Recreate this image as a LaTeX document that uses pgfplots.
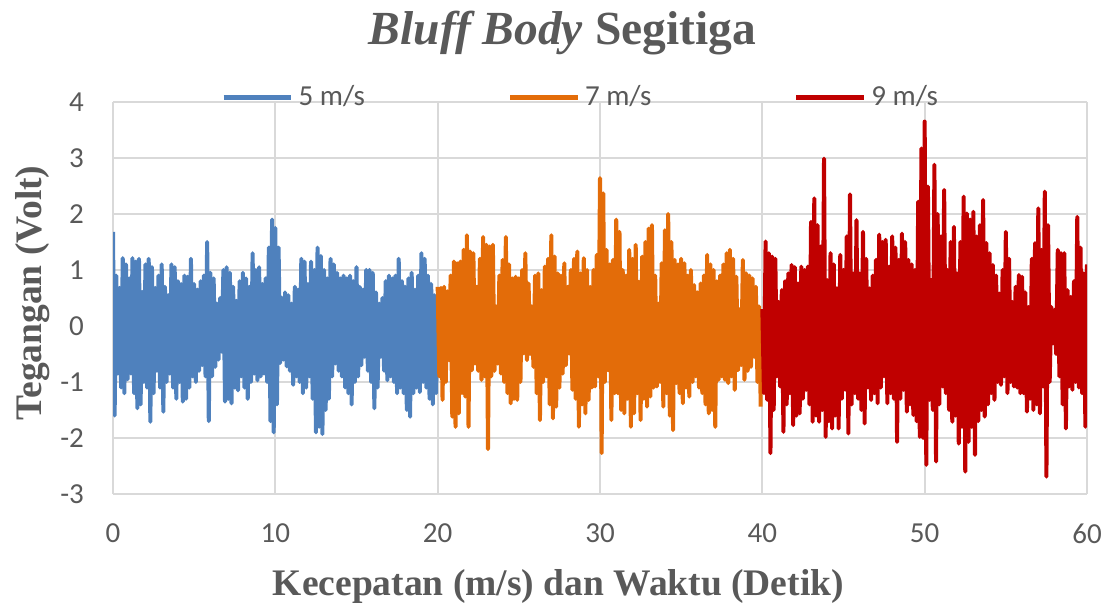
\documentclass[border=0pt]{standalone}
\usepackage{fontspec}
\setmainfont{Liberation Serif}
\newfontfamily\calibri{Carlito}
\usepackage{pgfplots}
\pgfplotsset{compat=1.18}
\definecolor{textgray}{HTML}{595959}
\definecolor{gridgray}{HTML}{D9D9D9}
\definecolor{sblue}{HTML}{4F81BD}
\definecolor{sorange}{HTML}{E36C09}
\definecolor{sred}{HTML}{C00000}
\newcommand\tickfont{\calibri\fontsize{11.6}{13}\selectfont}
\begin{document}
\begin{tikzpicture}
\begin{axis}[
  name=ax, scale only axis, width=389.6pt, height=156.8pt,
  xmin=0, xmax=60, ymin=-3, ymax=4,
  xtick={0,10,20,30,40,50,60}, ytick={-3,-2,-1,0,1,2,3,4},
  xticklabels={0,10,20,30,40,50,60}, yticklabels={-3,-2,-1,0,1,2,3,4},
  grid=major, major grid style={draw=gridgray, line width=0.75pt},
  axis line style={draw=none}, tick style={draw=none},
  ticklabel style={font=\tickfont, text=textgray},
  xticklabel style={yshift=-8.5pt}, yticklabel style={xshift=-8.1pt},
  title={\textit{Bluff Body} Segitiga},
  title style={font=\fontsize{19}{21}\selectfont\bfseries, text=textgray, at={(axis description cs:0.4615,1.177)}, anchor=center, yshift=0pt},
  every axis title shift=0pt,
  xlabel={Kecepatan (m/s) dan Waktu (Detik)},
  xlabel style={font=\fontsize{15}{17}\selectfont\bfseries, text=textgray, at={(axis description cs:0.4573,-0.2347)}, anchor=center},
  ylabel={Tegangan (Volt)},
  ylabel style={font=\fontsize{15}{17}\selectfont\bfseries, text=textgray, at={(axis description cs:-0.0826,0.513)}, anchor=center},
  legend columns=3,
  legend style={draw=none, fill=none, inner sep=0pt, at={(axis description cs:0.1105,1.0115)}, anchor=west, font=\tickfont, text=textgray, /tikz/every even column/.append style={column sep=55pt}},
  legend image code/.code={\draw[#1, line width=2pt] (0pt,0pt) -- (27pt,0pt);},
]
\addplot[sblue, line width=1.6pt, line join=round] coordinates {
(0,1.68)(0.1,-1.6)(0.2,0.9)(0.3,-0.85)(0.4,0.68)(0.5,-1.1)(0.6,1.21)(0.7,-1.2)(0.8,1.1)(0.9,-0.95)(1,0.85)(1.1,-0.85)(1.2,1.21)(1.3,-1.2)(1.4,1.15)(1.5,-1.47)(1.6,1.2)(1.7,-1.4)(1.8,0.61)(1.9,-1.0)
(2,1.1)(2.1,-1.1)(2.2,1.2)(2.3,-1.71)(2.4,1.05)(2.5,-1.2)(2.6,0.68)(2.7,-0.8)(2.8,0.9)(2.9,-1.1)(3,1.1)(3.1,-1.53)(3.2,0.7)(3.3,-1.0)(3.4,0.55)(3.5,-0.85)(3.6,1.1)(3.7,-1.1)(3.8,1.05)(3.9,-1.3)
(4,0.8)(4.1,-1.0)(4.2,0.75)(4.3,-1.35)(4.4,0.9)(4.5,-1.3)(4.6,0.88)(4.7,-1.1)(4.8,1.2)(4.9,-0.9)(5,0.75)(5.1,-1.0)(5.2,0.65)(5.3,-0.8)(5.4,0.8)(5.5,-0.7)(5.6,0.9)(5.7,-0.9)(5.8,1.5)(5.9,-1.7)
(6,0.95)(6.1,-0.9)(6.2,0.85)(6.3,-0.73)(6.4,0.4)(6.5,-0.6)(6.6,0.5)(6.7,-0.46)(6.8,1.0)(6.9,-1.35)(7,1.05)(7.1,-1.3)(7.2,0.95)(7.3,-1.38)(7.4,0.7)(7.5,-1.1)(7.6,0.45)(7.7,-1.15)(7.8,0.8)(7.9,-0.9)
(8,0.95)(8.1,-1.1)(8.2,0.85)(8.3,-1.3)(8.4,0.7)(8.5,-1.0)(8.6,1.3)(8.7,-0.85)(8.8,1.0)(8.9,-0.97)(9,1.05)(9.1,-0.9)(9.2,0.75)(9.3,-0.85)(9.4,0.85)(9.5,-1.0)(9.6,1.4)(9.7,-1.7)(9.8,1.9)(9.9,-1.9)
(10,1.75)(10.1,-1.4)(10.2,1.4)(10.3,-0.66)(10.4,0.5)(10.5,-0.6)(10.6,0.6)(10.7,-0.72)(10.8,0.55)(10.9,-0.8)(11,0.4)(11.1,-1.05)(11.2,0.7)(11.3,-0.9)(11.4,0.65)(11.5,-1.0)(11.6,1.2)(11.7,-1.2)(11.8,1.15)(11.9,-1.1)
(12,0.75)(12.1,-0.9)(12.2,1.15)(12.3,-1.3)(12.4,1.0)(12.5,-1.9)(12.6,1.4)(12.7,-1.8)(12.8,1.25)(12.9,-1.93)(13,1.0)(13.1,-1.5)(13.2,0.85)(13.3,-1.3)(13.4,1.2)(13.5,-0.9)(13.6,1.1)(13.7,-0.67)(13.8,0.95)(13.9,-0.8)
(14,0.85)(14.1,-0.9)(14.2,0.9)(14.3,-1.1)(14.4,0.85)(14.5,-1.2)(14.6,0.9)(14.7,-1.4)(14.8,0.8)(14.9,-1.0)(15,1.05)(15.1,-0.9)(15.2,0.7)(15.3,-0.7)(15.4,0.65)(15.5,-0.55)(15.6,1.0)(15.7,-0.8)(15.8,1.0)(15.9,-1.0)
(16,0.95)(16.1,-1.47)(16.2,0.6)(16.3,-1.1)(16.4,0.4)(16.5,-0.55)(16.6,0.5)(16.7,-0.8)(16.8,0.8)(16.9,-0.97)(17,0.9)(17.1,-0.9)(17.2,0.85)(17.3,-1.0)(17.4,0.9)(17.5,-1.2)(17.6,1.2)(17.7,-1.1)(17.8,0.8)(17.9,-1.2)
(18,0.7)(18.1,-1.5)(18.2,0.85)(18.3,-1.62)(18.4,0.95)(18.5,-1.2)(18.6,0.65)(18.7,-1.1)(18.8,0.9)(18.9,-1.18)(19,1.3)(19.1,-1.0)(19.2,1.2)(19.3,-1.1)(19.4,0.9)(19.5,-1.3)(19.6,0.75)(19.7,-1.4)(19.8,0.55)(19.9,-1.2)(20,0.3)
};
\addlegendentry{5 m/s}
\addplot[sorange, line width=1.6pt, line join=round] coordinates {
(20,0.7)(20.1,-0.9)(20.2,0.68)(20.3,-1.32)(20.4,0.7)(20.5,-1.0)(20.6,0.62)(20.7,-0.61)(20.8,0.9)(20.9,-1.62)(21,1.15)(21.1,-1.8)(21.2,1.12)(21.3,-1.56)(21.4,1.15)(21.5,-1.2)(21.6,1.36)(21.7,-1.26)(21.8,1.62)(21.9,-1.8)
(22,1.33)(22.1,-0.79)(22.2,1.3)(22.3,-0.67)(22.4,0.7)(22.5,-0.8)(22.6,1.2)(22.7,-0.96)(22.8,1.59)(22.9,-0.9)(23,1.45)(23.1,-2.2)(23.2,1.42)(23.3,-0.9)(23.4,1.45)(23.5,-0.8)(23.6,0.35)(23.7,-0.67)(23.8,0.9)(23.9,-0.85)
(24,1.18)(24.1,-1.0)(24.2,1.59)(24.3,-1.2)(24.4,1.1)(24.5,-1.38)(24.6,0.85)(24.7,-1.3)(24.8,0.88)(24.9,-1.32)(25,0.85)(25.1,-1.0)(25.2,1.0)(25.3,-0.49)(25.4,1.3)(25.5,-0.61)(25.6,0.76)(25.7,-0.5)(25.8,0.35)(25.9,-0.73)
(26,0.9)(26.1,-1.2)(26.2,0.94)(26.3,-1.68)(26.4,0.64)(26.5,-1.0)(26.6,1.06)(26.7,-0.9)(26.8,1.2)(26.9,-1.4)(27,1.62)(27.1,-1.65)(27.2,1.24)(27.3,-1.44)(27.4,0.94)(27.5,-1.1)(27.6,0.9)(27.7,-0.85)(27.8,1.12)(27.9,-0.7)
(28,0.7)(28.1,-0.49)(28.2,1.0)(28.3,-1.14)(28.4,1.2)(28.5,-1.3)(28.6,1.33)(28.7,-1.8)(28.8,0.94)(28.9,-1.4)(29,1.21)(29.1,-1.56)(29.2,1.0)(29.3,-1.32)(29.4,0.7)(29.5,-1.1)(29.6,1.0)(29.7,-1.08)(29.8,1.27)(29.9,-0.9)
(30,2.64)(30.1,-2.27)(30.2,2.37)(30.3,-1.0)(30.4,1.36)(30.5,-0.79)(30.6,1.1)(30.7,-1.68)(30.8,1.18)(30.9,-1.2)(31,1.9)(31.1,-1.2)(31.2,1.68)(31.3,-1.5)(31.4,1.0)(31.5,-1.56)(31.6,0.9)(31.7,-1.3)(31.8,1.36)(31.9,-1.8)
(32,1.2)(32.1,-1.56)(32.2,1.45)(32.3,-1.2)(32.4,0.79)(32.5,-1.68)(32.6,1.24)(32.7,-1.3)(32.8,1.5)(32.9,-1.44)(33,1.74)(33.1,-1.26)(33.2,1.8)(33.3,-1.1)(33.4,0.9)(33.5,-1.08)(33.6,0.4)(33.7,-1.0)(33.8,1.12)(33.9,-1.44)
(34,1.71)(34.1,-1.2)(34.2,2.0)(34.3,-1.6)(34.4,1.5)(34.5,-1.86)(34.6,1.18)(34.7,-1.02)(34.8,1.1)(34.9,-1.2)(35,1.2)(35.1,-1.38)(35.2,1.12)(35.3,-1.1)(35.4,0.9)(35.5,-1.26)(35.6,1.0)(35.7,-1.0)(35.8,0.73)(35.9,-0.9)
(36,0.6)(36.1,-1.1)(36.2,0.76)(36.3,-1.2)(36.4,0.9)(36.5,-1.4)(36.6,1.27)(36.7,-1.56)(36.8,1.1)(36.9,-1.5)(37,1.0)(37.1,-1.8)(37.2,0.8)(37.3,-0.96)(37.4,0.9)(37.5,-0.9)(37.6,1.1)(37.7,-0.96)(37.8,1.3)(37.9,-1.02)
(38,1.36)(38.1,-0.9)(38.2,1.2)(38.3,-1.14)(38.4,0.88)(38.5,-0.79)(38.6,0.3)(38.7,-0.7)(38.8,1.18)(38.9,-0.96)(39,0.94)(39.1,-0.8)(39.2,0.9)(39.3,-0.73)(39.4,0.85)(39.5,-0.55)(39.6,0.7)(39.7,-1.0)(39.8,0.35)(39.9,-1.44)
};
\addlegendentry{7 m/s}
\addplot[sred, line width=1.6pt, line join=round] coordinates {
(40,0.3)(40.1,-1.2)(40.2,1.51)(40.3,-1.32)(40.4,1.3)(40.5,-2.27)(40.6,1.24)(40.7,-1.5)(40.8,1.2)(40.9,-0.9)(41,0.43)(41.1,-1.08)(41.2,0.64)(41.3,-1.89)(41.4,0.8)(41.5,-1.4)(41.6,0.94)(41.7,-1.2)(41.8,1.09)(41.9,-1.77)
(42,1.05)(42.1,-1.6)(42.2,0.76)(42.3,-1.56)(42.4,1.06)(42.5,-1.3)(42.6,1.0)(42.7,-1.14)(42.8,1.06)(42.9,-1.4)(43,1.86)(43.1,-1.71)(43.2,2.28)(43.3,-1.6)(43.4,1.8)(43.5,-1.71)(43.6,1.42)(43.7,-1.5)(43.8,2.99)(43.9,-1.98)
(44,0.82)(44.1,-1.7)(44.2,1.3)(44.3,-1.83)(44.4,1.1)(44.5,-1.6)(44.6,0.67)(44.7,-1.83)(44.8,1.27)(44.9,-1.3)(45,1.0)(45.1,-1.14)(45.2,1.6)(45.3,-1.92)(45.4,2.35)(45.5,-1.4)(45.6,0.94)(45.7,-1.2)(45.8,1.89)(45.9,-1.3)
(46,0.94)(46.1,-1.5)(46.2,1.68)(46.3,-1.74)(46.4,1.2)(46.5,-1.1)(46.6,0.67)(46.7,-1.32)(46.8,0.9)(46.9,-1.2)(47,1.18)(47.1,-1.38)(47.2,1.63)(47.3,-1.1)(47.4,1.5)(47.5,-0.9)(47.6,1.54)(47.7,-1.38)(47.8,1.06)(47.9,-1.2)
(48,1.6)(48.1,-1.3)(48.2,1.4)(48.3,-2.07)(48.4,1.18)(48.5,-1.3)(48.6,1.65)(48.7,-1.14)(48.8,1.5)(48.9,-1.53)(49,1.18)(49.1,-1.4)(49.2,1.1)(49.3,-1.59)(49.4,1.0)(49.5,-1.7)(49.6,2.22)(49.7,-1.98)(49.8,3.17)(49.9,-2.0)
(50,3.65)(50.1,-2.48)(50.2,2.49)(50.3,-1.32)(50.4,0.82)(50.5,-1.5)(50.6,2.88)(50.7,-2.42)(50.8,2.0)(50.9,-1.4)(51,1.6)(51.1,-1.08)(51.2,2.43)(51.3,-1.2)(51.4,1.0)(51.5,-1.5)(51.6,1.5)(51.7,-1.71)(51.8,1.77)(51.9,-1.6)
(52,0.94)(52.1,-2.1)(52.2,1.5)(52.3,-1.8)(52.4,2.31)(52.5,-2.6)(52.6,2.01)(52.7,-2.07)(52.8,1.9)(52.9,-1.8)(53,2.04)(53.1,-2.3)(53.2,1.6)(53.3,-1.7)(53.4,1.8)(53.5,-1.5)(53.6,2.25)(53.7,-1.62)(53.8,1.48)(53.9,-1.4)
(54,1.3)(54.1,-1.2)(54.2,1.09)(54.3,-1.32)(54.4,0.9)(54.5,-1.0)(54.6,0.58)(54.7,-1.05)(54.8,1.0)(54.9,-0.9)(55,1.68)(55.1,-1.2)(55.2,1.2)(55.3,-1.0)(55.4,0.43)(55.5,-1.08)(55.6,0.7)(55.7,-1.1)(55.8,0.91)(55.9,-1.2)
(56,0.88)(56.1,-1.2)(56.2,0.6)(56.3,-1.53)(56.4,0.34)(56.5,-1.3)(56.6,1.2)(56.7,-1.5)(56.8,1.48)(56.9,-1.4)(57,2.1)(57.1,-1.56)(57.2,1.36)(57.3,-1.08)(57.4,2.4)(57.5,-2.69)(57.6,1.8)(57.7,-1.0)(57.8,0.34)(57.9,-0.31)
(58,0.29)(58.1,-0.5)(58.2,1.36)(58.3,-0.9)(58.4,1.3)(58.5,-1.4)(58.6,1.3)(58.7,-1.83)(58.8,0.64)(58.9,-1.08)(59,0.52)(59.1,-1.14)(59.2,0.8)(59.3,-1.0)(59.4,1.95)(59.5,-1.1)(59.6,1.4)(59.7,-1.2)(59.8,0.94)(59.9,-1.8)(60,1.1)
};
\addlegendentry{9 m/s}
\end{axis}
\pgfresetboundingbox
\path ([shift={(-45.2pt,-44.8pt)}]ax.south west) rectangle ([shift={(8pt,40.8pt)}]ax.north east);
\end{tikzpicture}
\end{document}
